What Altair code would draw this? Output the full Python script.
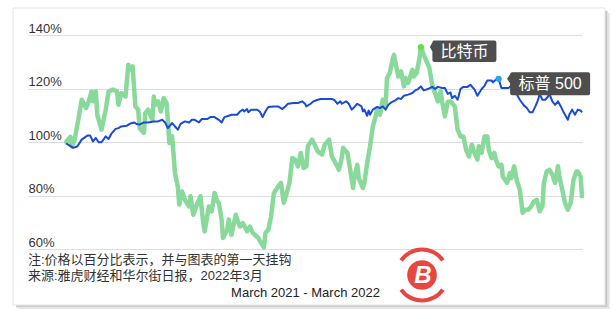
import altair as alt
import pandas as pd

# ---- data: day index since start (Mar 2021), value in % of day 0
btc_day = [0, 3, 4, 6, 9, 11, 14, 16, 18, 19,
           21, 22, 25, 28, 30, 33, 36, 37, 39, 42,
           44, 45, 47, 49, 51, 52, 55, 56, 58, 61,
           62, 63, 65, 67, 69, 71, 72, 73, 75, 77,
           79, 80, 82, 84, 87, 88, 90, 92, 95, 97,
           98, 101, 103, 105, 107, 108, 110, 111, 114, 115,
           117, 120, 121, 123, 125, 128, 130, 132, 136, 138,
           140, 141, 143, 145, 147, 150, 152, 154, 156, 158,
           160, 162, 164, 166, 168, 170, 171, 174, 176, 178,
           181, 183, 186, 188, 190, 193, 195, 196, 199, 201,
           203, 204, 206, 207, 210, 211, 213, 215, 217, 219,
           220, 222, 224, 226, 227, 229, 231, 232, 233, 235,
           237, 239, 240, 242, 245, 246, 248, 250, 251, 253,
           255, 257, 259, 261, 263, 265, 266, 268, 270, 272,
           275, 277, 279, 281, 283, 285, 287, 289, 291, 292,
           294, 296, 298, 299, 301, 303, 304, 306, 308, 309,
           312, 314, 315, 317, 319, 321, 323, 325, 327, 329,
           331, 333, 335, 337, 338, 340, 342, 344, 346, 348,
           349, 351, 353, 355, 357, 359, 361, 362, 364, 365]
btc_val = [100, 101.9, 98.4, 100.9, 109.6, 115.8, 112.7, 115.2, 118.9, 115.2,
           118.9, 110.2, 104.6, 112.1, 118.9, 119.6, 118.9, 113.9, 118.3, 117,
           128.9, 127, 128.3, 113.3, 112.1, 105.2, 103.4, 110.8, 112.1, 108.3,
           117, 113.9, 115.2, 111.4, 116.4, 114.6, 108.3, 99.6, 102.1, 88.4,
           83.4, 76.6, 81.5, 78.4, 75.9, 79.7, 72.8, 75.9, 79.7, 69.7,
           66.6, 75.9, 74.1, 80.9, 77.8, 77.2, 71, 64.1, 67.2, 71,
           65.3, 72.8, 71, 68.4, 69.7, 66.6, 68.4, 66, 64.1, 62.2,
           60.6, 66, 67.2, 72.2, 80.9, 83.4, 84.7, 77.2, 80.9, 84.7,
           94, 93.4, 90.9, 95.9, 90.3, 90.9, 98.4, 100.9, 98.8, 96.5,
           95.3, 99, 100.9, 94.6, 92.7, 89.6, 94, 97.8, 95.9, 89.6,
           82.8, 87.1, 91.5, 86.5, 82.8, 84.7, 92.1, 98.4, 105.8, 109.6,
           112.1, 110.2, 115.8, 113.3, 123.9, 125.8, 130.8, 132.6, 129.5, 124.5,
           126.4, 120.8, 123.9, 122.1, 127, 124.5, 125.8, 131.4, 135.5, 132.6,
           130.1, 127.7, 121.4, 118.3, 115.2, 118.9, 115.2, 109.6, 115, 115.2,
           113.3, 104.6, 102.1, 102.1, 97.1, 94.6, 99, 95.9, 93.4, 98.4,
           95.9, 102.1, 102.1, 97.1, 94, 95.9, 93.4, 90.9, 91.5, 87.1,
           84.7, 88.4, 86.5, 90.9, 85.3, 82.2, 73.5, 74.7, 74.7, 75.9,
           77.8, 78.4, 74.1, 75.9, 84.7, 89, 89.6, 87.8, 84.7, 90.9,
           87.1, 82.2, 77.2, 74.7, 77.2, 85.9, 89, 89, 87.1, 79.7]

spx_day = [0, 5, 8, 11, 15, 17, 19, 21, 23, 25,
           28, 30, 32, 35, 37, 39, 43, 45, 48, 50,
           52, 55, 58, 62, 65, 68, 70, 72, 75, 77,
           79, 81, 84, 87, 89, 91, 94, 96, 100, 102,
           105, 108, 110, 112, 115, 117, 121, 123, 125, 126,
           128, 129, 131, 135, 137, 139, 141, 143, 147, 150,
           153, 155, 157, 161, 164, 167, 169, 170, 173, 175,
           177, 180, 183, 188, 190, 192, 194, 195, 198, 200,
           202, 204, 206, 209, 210, 211, 213, 214, 215, 217,
           220, 222, 224, 226, 228, 230, 233, 235, 237, 239,
           242, 245, 247, 249, 251, 253, 256, 259, 261, 263,
           266, 268, 270, 272, 273, 275, 277, 279, 281, 284,
           286, 289, 291, 294, 296, 298, 301, 302, 304, 306,
           308, 311, 313, 315, 317, 319, 321, 324, 326, 328,
           330, 332, 334, 335, 337, 339, 341, 342, 344, 346,
           348, 350, 352, 355, 356, 358, 360, 362, 364, 365]
spx_val = [99.5, 97.8, 98.4, 100.9, 102.4, 102.4, 100.2, 101.5, 99.9, 99.9,
           102.1, 101.1, 103.1, 104.9, 105.2, 105.8, 106.1, 106.8, 107.3, 106.7,
           106.5, 107.3, 107.3, 107.7, 107.7, 108.3, 107.3, 105.2, 107.1, 105.8,
           104.6, 106.8, 107.7, 107.3, 108.3, 108.3, 107.3, 108.6, 108.6, 109.3,
           109.3, 108.3, 107.3, 109.3, 109.8, 110.2, 110.2, 111.4, 112.1, 111.4,
           112.3, 111.1, 112.1, 112.1, 111.4, 109.3, 111.4, 113.1, 113.3, 113.3,
           112.3, 113.3, 114.3, 114.6, 114.6, 115.2, 114.3, 113.3, 114.3, 115.2,
           115.6, 116.1, 116.1, 116.1, 115.6, 114.3, 115.2, 114.3, 115.2, 114.3,
           112.1, 113.1, 114.3, 113.3, 111.4, 112.1, 109.8, 111.8, 110.2, 112.1,
           113.1, 112.7, 113.3, 112.1, 113.9, 114.8, 115.6, 116.4, 116.1, 117.3,
           117.7, 118.3, 119.3, 119.8, 120.8, 119.3, 119.8, 120.6, 119.8, 120.6,
           120.2, 120.2, 118, 118.5, 116.4, 117.3, 115.8, 119.8, 120.6, 120.6,
           121.4, 119.6, 117.3, 119.8, 121, 123, 123, 122.3, 123.3, 123.6,
           120.2, 120.2, 120.2, 121, 119.6, 117.7, 115.8, 113.6, 112.7, 111.1,
           111.1, 113.3, 115.8, 118, 115.8, 115.8, 117, 118, 115.2, 113.9,
           115.2, 113.3, 111.1, 108.3, 110.2, 112.1, 110.2, 112.1, 111.8, 111.1]

y_ticks = [60, 80, 100, 120, 140]
btc_label = "比特币"
spx_label = "标普 500"
note_line = "注:价格以百分比表示，并与图表的第一天挂钩"
source_line = "来源:雅虎财经和华尔街日报，2022年3月"
period_line = "March 2021 - March 2022"

FONT = "Liberation Sans, Noto Sans CJK SC"
GREEN = "#89d99b"
BLUE = "#1a4bd6"

btc = pd.DataFrame({"day": btc_day, "v": btc_val})
spx = pd.DataFrame({"day": spx_day, "v": spx_val})
btc_peak = btc.loc[[btc["v"].idxmax()]]
spx_peak = spx.loc[[spx["v"].idxmax()]]

X = alt.X("day:Q", scale=alt.Scale(domain=[-27, 365], nice=False, zero=False), axis=None)
Y = alt.Y("v:Q", scale=alt.Scale(domain=[60, 140], nice=False, zero=False),
          axis=alt.Axis(values=y_ticks, labelExpr="datum.value + '%'", grid=True,
                        gridColor="#dddddd", gridWidth=1, domain=False, ticks=False,
                        tickSize=0, labelAlign="left", labelBaseline="bottom",
                        labelPadding=0, labelFontSize=13, labelColor="#333333",
                        labelFont=FONT, title=None))

one = alt.Data(values=[{"k": 1}])

# card frame and its shadow (decoration)
shadow_r = alt.Chart(one).mark_rect(color="#c4c4c4").encode(
    x=alt.value(577), x2=alt.value(579.5), y=alt.value(-24), y2=alt.value(272.5))
shadow_r2 = alt.Chart(one).mark_rect(color="#e2e2e2").encode(
    x=alt.value(579.5), x2=alt.value(581.5), y=alt.value(-22), y2=alt.value(274))
shadow_b = alt.Chart(one).mark_rect(color="#cdcdcd").encode(
    x=alt.value(-12), x2=alt.value(579.5), y=alt.value(270), y2=alt.value(272.5))
shadow_b2 = alt.Chart(one).mark_rect(color="#e6e6e6").encode(
    x=alt.value(-10), x2=alt.value(581.5), y=alt.value(272.5), y2=alt.value(274))
card = alt.Chart(one).mark_rect(fillOpacity=0, stroke="#e4e4e4", strokeWidth=1).encode(
    x=alt.value(-15), x2=alt.value(577), y=alt.value(-27), y2=alt.value(270))

btc_line = alt.Chart(btc).mark_line(color=GREEN, strokeWidth=4.5, strokeJoin="round",
                                    strokeCap="round").encode(x=X, y=Y)
spx_line = alt.Chart(spx).mark_line(color=BLUE, strokeWidth=2, strokeJoin="round").encode(x=X, y=Y)

btc_dot = alt.Chart(btc_peak).mark_circle(color="#5fe04a", size=40, opacity=1).encode(x=X, y=Y)
spx_dot = alt.Chart(spx_peak).mark_circle(color="#22a9ea", size=40, opacity=1).encode(x=X, y=Y)

BTC_BOX = ("M9,0L11.5,-4.5Q11.5,-6.5 13.5,-6.5L73.5,-6.5Q75.5,-6.5 75.5,-4.5"
           "L75.5,13Q75.5,15 73.5,15L13.5,15Q11.5,15 11.5,13L11.5,4.5Z")
SPX_BOX = ("M8.5,0L11.5,-4.5Q11.5,-6.5 13.5,-6.5L89.5,-6.5Q91.5,-6.5 91.5,-4.5"
           "L91.5,14.5Q91.5,16.5 89.5,16.5L13.5,16.5Q11.5,16.5 11.5,14.5L11.5,4.5Z")

btc_box = alt.Chart(btc_peak).mark_point(shape=BTC_BOX, size=4, filled=True, opacity=1,
                                         color="#4e4e4e", strokeWidth=0).encode(x=X, y=Y)
spx_box = alt.Chart(spx_peak).mark_point(shape=SPX_BOX, size=4, filled=True, opacity=1,
                                         color="#4e4e4e", strokeWidth=0).encode(x=X, y=Y)
btc_txt = alt.Chart(btc_peak).mark_text(dx=43.5, dy=4.5, fontSize=16, color="white", font=FONT,
                                        align="center", baseline="middle").encode(
    x=X, y=Y, text=alt.value(btc_label))
spx_txt = alt.Chart(spx_peak).mark_text(dx=51.5, dy=5.5, fontSize=16, color="white", font=FONT,
                                        align="center", baseline="middle").encode(
    x=X, y=Y, text=alt.value(spx_label))

note = alt.Chart(one).mark_text(align="left", baseline="middle", fontSize=13, color="#333333",
                                font=FONT).encode(x=alt.value(0), y=alt.value(225),
                                                  text=alt.value(note_line))
source = alt.Chart(one).mark_text(align="left", baseline="middle", fontSize=13, color="#333333",
                                  font=FONT).encode(x=alt.value(0), y=alt.value(240.5),
                                                    text=alt.value(source_line))
period = alt.Chart(one).mark_text(align="center", baseline="middle", fontSize=13, color="#222222",
                                  font=FONT).encode(x=alt.value(277.5), y=alt.value(257.5),
                                                    text=alt.value(period_line))

# watermark logo (decoration)
LOGO_RED = "#e8473f"
logo_top = alt.Chart(one).mark_arc(theta=5.32, theta2=7.24, radius=27.5, radius2=23.5,
                                   color=LOGO_RED).encode(x=alt.value(394), y=alt.value(240))
logo_bot = alt.Chart(one).mark_arc(theta=2.18, theta2=4.10, radius=27.5, radius2=23.5,
                                   color=LOGO_RED).encode(x=alt.value(394), y=alt.value(240))
logo_disc = alt.Chart(one).mark_circle(color=LOGO_RED, size=880, opacity=1).encode(
    x=alt.value(394), y=alt.value(240))
logo_b = alt.Chart(one).mark_text(fontSize=24, fontWeight="bold", fontStyle="italic",
                                  color="white", font="Liberation Sans", align="center",
                                  baseline="middle").encode(
    x=alt.value(395), y=alt.value(241), text=alt.value("B"))

chart = alt.layer(
    shadow_r, shadow_r2, shadow_b, shadow_b2, card,
    btc_line, spx_line, btc_dot, spx_dot,
    btc_box, spx_box, btc_txt, spx_txt,
    note, source, period,
    logo_top, logo_bot, logo_disc, logo_b,
).properties(
    width=554, height=214,
    padding={"left": 28, "top": 35, "right": 33, "bottom": 66},
    autosize="none",
).configure(background="white").configure_view(stroke=None)

chart.save("out.html", embed_options={"renderer": "svg", "actions": False})
